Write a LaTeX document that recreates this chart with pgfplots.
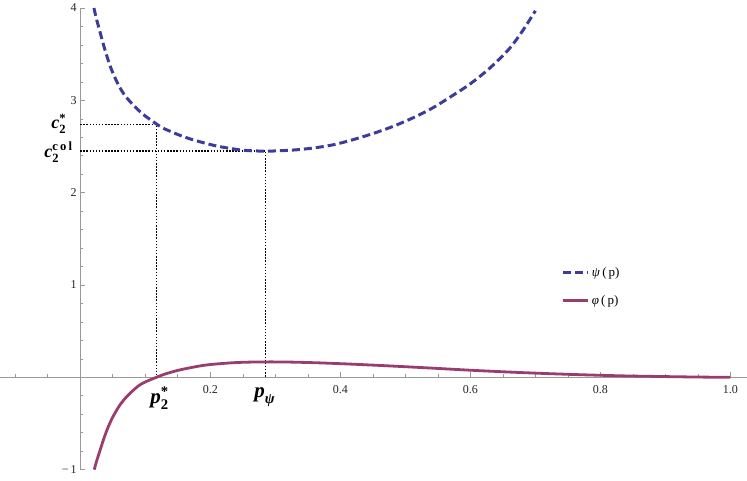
\documentclass[border=0pt]{standalone}
\usepackage{pgfplots}
\pgfplotsset{compat=1.18}
\usepackage{amsmath}
\usepackage{fontspec}
\setmainfont{Liberation Serif}
\definecolor{psiblue}{rgb}{0.24,0.24,0.6}
\definecolor{phipurple}{rgb}{0.6,0.24,0.442}
\definecolor{axgray}{gray}{0.6}
\newcommand{\bi}[1]{\textbf{\textit{#1}}}

\begin{document}
\begin{tikzpicture}
\begin{axis}[
  scale only axis, width=746.2pt, height=461.5pt,
  xmin=-0.123, xmax=1.025, ymin=-1, ymax=4,
  axis lines=middle, axis line style={axgray,-,line width=0.6pt},
  clip=false,
  xtick={0.2,0.4,0.6,0.8,1.0}, xticklabels={0.2,0.4,0.6,0.8,1.0},
  minor xtick={-0.1,-0.05,0.05,0.1,0.15,0.25,0.3,0.35,0.45,0.5,0.55,0.65,0.7,0.75,0.85,0.9,0.95},
  ytick={-1,1,2,3,4}, yticklabels={−\,1,1,2,3,4},
  minor ytick={-0.8,-0.6,-0.4,-0.2,0.2,0.4,0.6,0.8,1.2,1.4,1.6,1.8,2.2,2.4,2.6,2.8,3.2,3.4,3.6,3.8},
  tick align=inside,
  major tick length=5pt, minor tick length=3pt,
  tick style={axgray, line width=0.6pt},
  ticklabel style={font=\fontsize{12}{14}\selectfont, text=black!85},
  xticklabel style={yshift=-5pt},
  legend style={draw=none, fill=none, at={(0.748,0.448)}, anchor=north west,
    font=\fontsize{13}{15}\selectfont, row sep=14pt},
  legend cell align=left,
  legend image code/.code={\draw[#1] (0pt,0pt) -- (25pt,0pt);},
]
% dotted guides
\addplot[forget plot, black, line width=1.3pt, dash pattern=on 1.5pt off 1.6pt]
  coordinates {(0,2.74) (0.117,2.74) (0.117,0)};
\addplot[forget plot, black, line width=1.3pt, dash pattern=on 1.5pt off 1.6pt]
  coordinates {(0,2.45) (0.285,2.45) (0.285,0)};

\addplot[psiblue, line width=3pt, dash pattern=on 8pt off 4pt, smooth] coordinates {
  (0.021,4.00) (0.025,3.88) (0.03,3.75) (0.035,3.62) (0.04,3.50) (0.045,3.39)
  (0.05,3.30) (0.055,3.22) (0.06,3.15) (0.065,3.09) (0.07,3.04) (0.08,2.96)
  (0.09,2.89) (0.10,2.83) (0.11,2.78) (0.12,2.73) (0.13,2.69) (0.14,2.66)
  (0.15,2.63) (0.17,2.58) (0.19,2.54) (0.21,2.505) (0.23,2.48) (0.25,2.46)
  (0.27,2.452) (0.285,2.45) (0.30,2.452) (0.33,2.463) (0.36,2.485) (0.39,2.52)
  (0.42,2.575) (0.45,2.64) (0.48,2.715) (0.51,2.805) (0.54,2.91) (0.57,3.04)
  (0.60,3.18) (0.63,3.35) (0.66,3.56) (0.68,3.75) (0.70,3.97)
};
\addlegendentry{\textit{ψ}\,(\,p)}

\addplot[phipurple, line width=2.8pt, smooth] coordinates {
  (0.0215,-1.00) (0.025,-0.91) (0.03,-0.80) (0.035,-0.69) (0.04,-0.59)
  (0.045,-0.505) (0.05,-0.43) (0.06,-0.31) (0.07,-0.22) (0.08,-0.15)
  (0.09,-0.09) (0.10,-0.05) (0.117,0.0) (0.13,0.035) (0.15,0.075) (0.17,0.105)
  (0.19,0.13) (0.21,0.145) (0.24,0.16) (0.27,0.166) (0.30,0.167) (0.33,0.164)
  (0.37,0.156) (0.42,0.142) (0.48,0.122) (0.54,0.10) (0.60,0.077) (0.66,0.057)
  (0.72,0.04) (0.78,0.026) (0.84,0.015) (0.90,0.008) (0.95,0.003) (1.00,0.0)
};
\addlegendentry{\textit{φ}\,(\,p)}

\node[anchor=east, inner sep=1pt, font=\fontsize{18}{18}\selectfont] at (axis cs:-0.020,2.745)
  {$\bi{c}^{\textbf{*}}_{\textbf{2}}$};
\node[anchor=east, inner sep=1pt, font=\fontsize{18}{18}\selectfont] at (axis cs:-0.010,2.44)
  {$\bi{c}^{\textbf{c\,o\,l}}_{\textbf{2}}$};
\node[inner sep=1pt, font=\fontsize{21}{21}\selectfont] at (axis cs:0.122,-0.225)
  {$\bi{p}^{\textbf{*}}_{\textbf{2}}$};
\node[inner sep=1pt, font=\fontsize{21}{21}\selectfont] at (axis cs:0.284,-0.215)
  {$\bi{p}_{\bi{ψ}}$};

\path (axis cs:-0.123,4.087) rectangle (axis cs:1.025,-1.119);
\end{axis}
\end{tikzpicture}
\end{document}
